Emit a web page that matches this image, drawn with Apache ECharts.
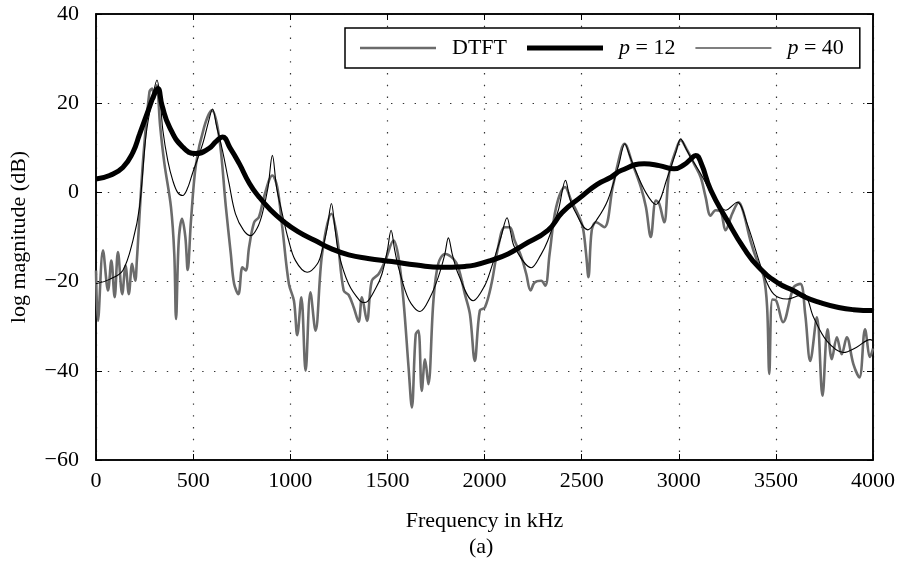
<!DOCTYPE html>
<html><head><meta charset="utf-8">
<script src="https://cdn.jsdelivr.net/npm/echarts@6/dist/echarts.min.js"></script>
<style>html,body{margin:0;padding:0;background:#fff}#c{width:906px;height:566px}</style>
</head><body><div id="c"></div>
<script>
// ---- data (frequency in kHz, log magnitude in dB) ----
const seriesNames = ['DTFT', 'p = 12', 'p = 40'];

const dtftFreq = [0,10,36,62,79,96,113,135,152,169,186,202,210,241,275,289,300,313,330,352,386,403,412,426,443,460,472,489,515,557,597,634,668,694,711,733,754,771,788,814,839,865,908,933,959,993,1019,1036,1057,1079,1104,1130,1164,1212,1241,1275,1301,1327,1352,1369,1395,1420,1455,1489,1532,1557,1583,1609,1626,1646,1660,1677,1694,1711,1737,1762,1797,1840,1865,1899,1925,1950,1976,2002,2036,2070,2104,2130,2155,2190,2215,2237,2258,2292,2313,2335,2369,2415,2446,2480,2506,2523,2535,2552,2574,2617,2660,2703,2720,2762,2805,2831,2856,2882,2899,2925,2950,2985,3010,3044,3078,3113,3138,3164,3190,3215,3241,3275,3309,3335,3369,3403,3438,3455,3466,3482,3502,3537,3591,3626,3651,3677,3711,3740,3766,3788,3814,3839,3865,3899,3930,3959,3985,4000];
const dtftDb = [-17.5,-28.8,-13,-22,-15.3,-23.5,-13.4,-22.8,-16.4,-22.8,-16,-19.8,-15.5,6.4,22.5,23.3,21,24,15,6.5,-3.3,-13.8,-28.4,-10.8,-5.9,-10,-17.4,-6.3,6.4,14.7,18.4,12.4,-3,-13.8,-20.5,-22.8,-16.8,-17.5,-12.3,-6.7,-5.5,-1,3.8,1.2,-7.8,-20.5,-24.3,-32,-23.5,-40,-22.4,-31,-13.8,-4.8,-10,-22,-23,-25.8,-29,-23.5,-28.8,-19.8,-18.3,-15.3,-10.8,-14.5,-24.3,-39.2,-48.2,-31.8,-31,-44.5,-37.4,-43,-24.3,-16,-13.8,-14.9,-16.8,-22.8,-27.3,-37.8,-26.5,-25.8,-20.5,-12.3,-7.8,-7.8,-10.8,-14.5,-18.3,-22,-20.2,-19.8,-20.9,-13.8,-3.3,1.2,-1.8,-4.8,-7.8,-13.8,-19,-8.5,-6.7,-7.8,1.2,9.4,10.9,6.4,1.2,-3.3,-10,-1.8,-2.5,-6.7,4.2,9.4,11.7,9.4,6.5,3.4,-1,-5.2,-4,-4.2,-8.5,-4.8,-2.2,-4.8,-10.8,-15.3,-19,-25.8,-40.7,-24,-24.3,-29.1,-21.3,-20.5,-27.3,-37.8,-28,-45.6,-30.7,-37.4,-32.5,-36.3,-32.5,-38.5,-41.5,-30.7,-36.9,-35];

const p12Freq = [0,70,138,190,224,270,300,318,340,378,446,513,580,620,651,690,737,790,839,900,959,1040,1128,1210,1301,1400,1523,1650,1779,1900,1949,2030,2121,2200,2326,2400,2497,2580,2651,2703,2822,2900,2976,3030,3060,3087,3115,3164,3250,3335,3412,3514,3590,3652,3728,3823,3900,4000];
const p12Db = [3,3.8,5.6,9,13,18.5,22,23.3,19.5,14.7,10.2,8.7,9.8,11.5,12.4,10,6.5,2,-1,-4,-6.3,-8.8,-10.8,-12.6,-14,-14.8,-15.5,-16.3,-16.8,-16.6,-16.3,-15.3,-13.8,-11.8,-8.5,-4.5,-1,1.8,3.4,4.9,6.4,6,5.3,6.3,7.4,8.3,6.6,0.6,-6.3,-12.5,-16.8,-20.4,-22,-23.5,-24.7,-25.8,-26.3,-26.5];

const p40Freq = [0,70,138,190,224,258,290,314,330,344,370,395,420,446,470,497,550,580,600,620,651,685,718,760,797,830,856,885,908,930,959,990,1027,1087,1140,1164,1190,1212,1230,1250,1300,1359,1385,1440,1472,1500,1519,1538,1557,1610,1668,1720,1762,1795,1814,1835,1865,1942,2000,2036,2085,2116,2135,2155,2241,2290,2326,2380,2417,2440,2463,2532,2580,2634,2690,2723,2745,2770,2830,2882,2942,2985,3010,3035,3061,3113,3180,3241,3301,3352,3438,3489,3557,3641,3694,3762,3848,3916,3985,4000];
const p40Db = [-20.5,-19.5,-17.5,-10.8,-3.3,13,21,25.2,21,14,7,2.7,0,-0.7,0.8,4.3,11,16,18.7,15,9.4,2,-4.8,-8.5,-9.7,-8,-4.8,1,8.3,1,-4.8,-10.5,-15.3,-17.9,-16,-13,-8,-2.5,-8,-13.8,-20.5,-24.3,-24.7,-21.5,-18.3,-13,-8.5,-13,-16.8,-24,-26.7,-23.5,-19,-14,-10.2,-14,-18.3,-24.3,-21,-16.8,-10,-5.7,-9,-12.3,-16.9,-14,-10.8,-4,2.7,-1.5,-4,-8.4,-6,-1.8,6,10.9,8.5,5.7,0,-2.7,3.4,9,12,10,7.9,4.2,-1,-4,-2.2,-7,-18.5,-22.8,-23.9,-22.8,-28,-33.3,-35.9,-34.7,-33,-33.3];

const xTicks = [0,500,1000,1500,2000,2500,3000,3500,4000];
const yTicks = [-60,-40,-20,0,20,40];

// ---- chart ----
const FONT = '"Liberation Serif","Times New Roman",serif';
const zip = (xs, ys) => xs.map((x, i) => [x, ys[i]]);
const minus = v => String(v).replace('-', '\u2212');
const chart = echarts.init(document.getElementById('c'), null, {renderer: 'canvas'});

const dotted = {show: true, lineStyle: {color: '#333', width: 1.2, type: [1.4, 10.4]}};
const tick = {show: true, inside: true, length: 6, lineStyle: {color: '#000', width: 1}};
const frameLine = {show: true, onZero: false, lineStyle: {color: '#000', width: 1.5}};
chart.setOption({
  animation: false,
  backgroundColor: '#fff',
  textStyle: {fontFamily: FONT},
  grid: {left: 93, right: 33, top: 14, bottom: 106, show: true, borderColor: '#000', borderWidth: 1.5, containLabel: false},
  legend: {
    left: 345, top: 28,
    data: [
      {name: seriesNames[0], icon: 'path://M0,0H76V2.6H0Z', itemStyle: {color: '#6b6b6b'}},
      {name: seriesNames[1], icon: 'path://M0,0H76V5H0Z', itemStyle: {color: '#000'}},
      {name: seriesNames[2], icon: 'path://M0,0H76V1.1H0Z', itemStyle: {color: '#000'}}
    ],
    itemWidth: 76, itemHeight: 14, itemGap: 20,
    padding: [9, 16, 9, 15],
    borderColor: '#000', borderWidth: 1.5, backgroundColor: '#fff',
    textStyle: {fontFamily: FONT, fontSize: 22, color: '#000', padding: [0, 0, 0, 11],
      rich: {i: {fontFamily: FONT, fontSize: 22, fontStyle: 'italic', color: '#000'}}},
    formatter: n => n.startsWith('p') ? '{i|p}' + n.slice(1) : n
  },
  xAxis: [{
    type: 'value', min: xTicks[0], max: xTicks[xTicks.length - 1], interval: 500,
    name: 'Frequency in kHz', nameLocation: 'middle', nameGap: 50,
    nameTextStyle: {fontFamily: FONT, fontSize: 22, color: '#000'},
    axisLine: frameLine, axisTick: tick,
    axisLabel: {fontFamily: FONT, fontSize: 22, color: '#000', margin: 10, formatter: v => String(v)},
    splitLine: dotted
  }, {
    type: 'value', position: 'top', min: xTicks[0], max: xTicks[xTicks.length - 1], interval: 500,
    axisLine: frameLine, axisTick: tick,
    axisLabel: {show: false}, splitLine: {show: false}
  }],
  yAxis: [{
    type: 'value', min: yTicks[0], max: yTicks[yTicks.length - 1], interval: 20,
    name: 'log magnitude (dB)', nameLocation: 'middle', nameGap: 66, nameRotate: 90,
    nameTextStyle: {fontFamily: FONT, fontSize: 22, color: '#000'},
    axisLine: frameLine, axisTick: tick,
    axisLabel: {fontFamily: FONT, fontSize: 22, color: '#000', margin: 17, formatter: minus},
    splitLine: dotted
  }, {
    type: 'value', position: 'right', min: yTicks[0], max: yTicks[yTicks.length - 1], interval: 20,
    axisLine: frameLine, axisTick: tick,
    axisLabel: {show: false}, splitLine: {show: false}
  }],
  series: [
    {name: seriesNames[0], type: 'line', data: zip(dtftFreq, dtftDb), symbol: 'none', smooth: 0.35,
     lineStyle: {color: '#6b6b6b', width: 2.6}, itemStyle: {color: '#6b6b6b'}, z: 2},
    {name: seriesNames[1], type: 'line', data: zip(p12Freq, p12Db), symbol: 'none', smooth: 0.5,
     lineStyle: {color: '#000', width: 5}, itemStyle: {color: '#000'}, z: 3},
    {name: seriesNames[2], type: 'line', data: zip(p40Freq, p40Db), symbol: 'none', smooth: 0.35,
     lineStyle: {color: '#000', width: 1.1}, itemStyle: {color: '#000'}, z: 4}
  ],
  graphic: [{type: 'text', left: 469, top: 536, style: {text: '(a)', font: '22px ' + FONT, fill: '#000'}}]
});
</script></body></html>
